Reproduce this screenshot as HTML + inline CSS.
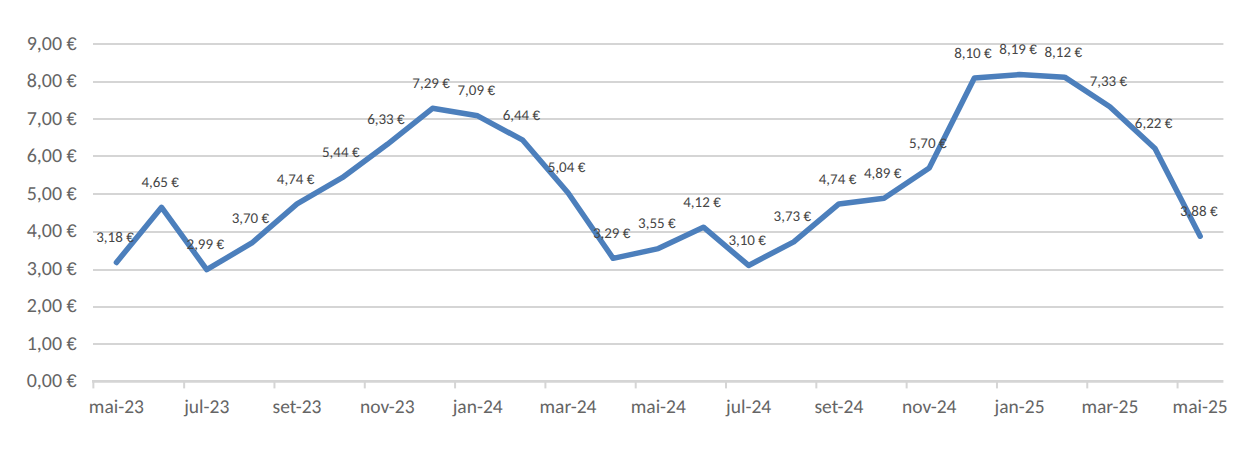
<!DOCTYPE html><html><head><meta charset="utf-8"><style>html,body{margin:0;padding:0;background:#fff;overflow:hidden}svg{display:block}text{font-family:Carlito, "Liberation Sans", sans-serif;font-size-adjust:0.4775;text-rendering:geometricPrecision}tspan.e{font-family:"Liberation Sans",sans-serif;font-size-adjust:none}</style></head><body>
<svg width="1253" height="449" viewBox="0 0 1253 449">
<rect width="1253" height="449" fill="#fff"/>
<line x1="93.00" y1="344.00" x2="1223.40" y2="344.00" stroke="#d5d5d5" stroke-width="2.00"/>
<line x1="93.00" y1="307.00" x2="1223.40" y2="307.00" stroke="#d5d5d5" stroke-width="2.00"/>
<line x1="93.00" y1="270.00" x2="1223.40" y2="270.00" stroke="#d5d5d5" stroke-width="2.00"/>
<line x1="93.00" y1="232.00" x2="1223.40" y2="232.00" stroke="#d5d5d5" stroke-width="2.00"/>
<line x1="93.00" y1="194.00" x2="1223.40" y2="194.00" stroke="#d5d5d5" stroke-width="2.00"/>
<line x1="93.00" y1="156.00" x2="1223.40" y2="156.00" stroke="#d5d5d5" stroke-width="2.00"/>
<line x1="93.00" y1="119.00" x2="1223.40" y2="119.00" stroke="#d5d5d5" stroke-width="2.00"/>
<line x1="93.00" y1="82.00" x2="1223.40" y2="82.00" stroke="#d5d5d5" stroke-width="2.00"/>
<line x1="93.00" y1="44.00" x2="1223.40" y2="44.00" stroke="#d5d5d5" stroke-width="2.00"/>
<line x1="92.00" y1="381.40" x2="1223.40" y2="381.40" stroke="#d5d5d5" stroke-width="2.60"/>
<line x1="93.35" y1="381.40" x2="93.35" y2="388.40" stroke="#d5d5d5" stroke-width="2.00"/>
<line x1="184.15" y1="381.40" x2="184.15" y2="388.40" stroke="#d5d5d5" stroke-width="2.00"/>
<line x1="274.46" y1="381.40" x2="274.46" y2="388.40" stroke="#d5d5d5" stroke-width="2.00"/>
<line x1="364.78" y1="381.40" x2="364.78" y2="388.40" stroke="#d5d5d5" stroke-width="2.00"/>
<line x1="455.09" y1="381.40" x2="455.09" y2="388.40" stroke="#d5d5d5" stroke-width="2.00"/>
<line x1="545.40" y1="381.40" x2="545.40" y2="388.40" stroke="#d5d5d5" stroke-width="2.00"/>
<line x1="635.71" y1="381.40" x2="635.71" y2="388.40" stroke="#d5d5d5" stroke-width="2.00"/>
<line x1="726.02" y1="381.40" x2="726.02" y2="388.40" stroke="#d5d5d5" stroke-width="2.00"/>
<line x1="816.34" y1="381.40" x2="816.34" y2="388.40" stroke="#d5d5d5" stroke-width="2.00"/>
<line x1="906.65" y1="381.40" x2="906.65" y2="388.40" stroke="#d5d5d5" stroke-width="2.00"/>
<line x1="996.96" y1="381.40" x2="996.96" y2="388.40" stroke="#d5d5d5" stroke-width="2.00"/>
<line x1="1087.27" y1="381.40" x2="1087.27" y2="388.40" stroke="#d5d5d5" stroke-width="2.00"/>
<line x1="1177.58" y1="381.40" x2="1177.58" y2="388.40" stroke="#d5d5d5" stroke-width="2.00"/>
<text x="76.80" y="387.30" text-anchor="end" font-size="20.00" fill="#656565">0,00 <tspan class="e" font-size="18.34">€</tspan></text>
<text x="76.80" y="349.79" text-anchor="end" font-size="20.00" fill="#656565">1,00 <tspan class="e" font-size="18.34">€</tspan></text>
<text x="76.80" y="312.28" text-anchor="end" font-size="20.00" fill="#656565">2,00 <tspan class="e" font-size="18.34">€</tspan></text>
<text x="76.80" y="274.77" text-anchor="end" font-size="20.00" fill="#656565">3,00 <tspan class="e" font-size="18.34">€</tspan></text>
<text x="76.80" y="237.26" text-anchor="end" font-size="20.00" fill="#656565">4,00 <tspan class="e" font-size="18.34">€</tspan></text>
<text x="76.80" y="199.75" text-anchor="end" font-size="20.00" fill="#656565">5,00 <tspan class="e" font-size="18.34">€</tspan></text>
<text x="76.80" y="162.24" text-anchor="end" font-size="20.00" fill="#656565">6,00 <tspan class="e" font-size="18.34">€</tspan></text>
<text x="76.80" y="124.73" text-anchor="end" font-size="20.00" fill="#656565">7,00 <tspan class="e" font-size="18.34">€</tspan></text>
<text x="76.80" y="87.22" text-anchor="end" font-size="20.00" fill="#656565">8,00 <tspan class="e" font-size="18.34">€</tspan></text>
<text x="76.80" y="49.71" text-anchor="end" font-size="20.00" fill="#656565">9,00 <tspan class="e" font-size="18.34">€</tspan></text>
<text x="116.42" y="413.00" text-anchor="middle" font-size="19.50" fill="#656565">mai-23</text>
<text x="206.73" y="413.00" text-anchor="middle" font-size="19.50" fill="#656565">jul-23</text>
<text x="297.04" y="413.00" text-anchor="middle" font-size="19.50" fill="#656565">set-23</text>
<text x="387.35" y="413.00" text-anchor="middle" font-size="19.50" fill="#656565">nov-23</text>
<text x="477.67" y="413.00" text-anchor="middle" font-size="19.50" fill="#656565">jan-24</text>
<text x="567.98" y="413.00" text-anchor="middle" font-size="19.50" fill="#656565">mar-24</text>
<text x="658.29" y="413.00" text-anchor="middle" font-size="19.50" fill="#656565">mai-24</text>
<text x="748.60" y="413.00" text-anchor="middle" font-size="19.50" fill="#656565">jul-24</text>
<text x="838.91" y="413.00" text-anchor="middle" font-size="19.50" fill="#656565">set-24</text>
<text x="929.23" y="413.00" text-anchor="middle" font-size="19.50" fill="#656565">nov-24</text>
<text x="1019.54" y="413.00" text-anchor="middle" font-size="19.50" fill="#656565">jan-25</text>
<text x="1109.85" y="413.00" text-anchor="middle" font-size="19.50" fill="#656565">mar-25</text>
<text x="1200.16" y="413.00" text-anchor="middle" font-size="19.50" fill="#656565">mai-25</text>
<polyline points="116.42,262.47 161.57,207.33 206.73,269.60 251.89,242.96 297.04,203.95 342.20,177.70 387.35,144.31 432.51,108.30 477.67,115.80 522.82,140.19 567.98,192.70 613.13,258.34 658.29,248.59 703.45,227.21 748.60,265.47 793.76,241.84 838.91,203.95 884.07,198.33 929.23,167.94 974.38,77.92 1019.54,74.54 1064.69,77.17 1109.85,106.80 1155.01,148.44 1200.16,236.21" fill="none" stroke="#4c7fbc" stroke-width="5.50" stroke-linejoin="round" stroke-linecap="round"/>
<text x="115.02" y="242.07" text-anchor="middle" font-size="15.00" fill="#474747">3,18 <tspan class="e" font-size="13.76">€</tspan></text>
<text x="160.17" y="186.93" text-anchor="middle" font-size="15.00" fill="#474747">4,65 <tspan class="e" font-size="13.76">€</tspan></text>
<text x="205.33" y="249.20" text-anchor="middle" font-size="15.00" fill="#474747">2,99 <tspan class="e" font-size="13.76">€</tspan></text>
<text x="250.49" y="222.56" text-anchor="middle" font-size="15.00" fill="#474747">3,70 <tspan class="e" font-size="13.76">€</tspan></text>
<text x="295.64" y="183.55" text-anchor="middle" font-size="15.00" fill="#474747">4,74 <tspan class="e" font-size="13.76">€</tspan></text>
<text x="340.80" y="157.30" text-anchor="middle" font-size="15.00" fill="#474747">5,44 <tspan class="e" font-size="13.76">€</tspan></text>
<text x="385.95" y="123.91" text-anchor="middle" font-size="15.00" fill="#474747">6,33 <tspan class="e" font-size="13.76">€</tspan></text>
<text x="431.11" y="87.90" text-anchor="middle" font-size="15.00" fill="#474747">7,29 <tspan class="e" font-size="13.76">€</tspan></text>
<text x="476.27" y="95.40" text-anchor="middle" font-size="15.00" fill="#474747">7,09 <tspan class="e" font-size="13.76">€</tspan></text>
<text x="521.42" y="119.79" text-anchor="middle" font-size="15.00" fill="#474747">6,44 <tspan class="e" font-size="13.76">€</tspan></text>
<text x="566.58" y="172.30" text-anchor="middle" font-size="15.00" fill="#474747">5,04 <tspan class="e" font-size="13.76">€</tspan></text>
<text x="611.73" y="237.94" text-anchor="middle" font-size="15.00" fill="#474747">3,29 <tspan class="e" font-size="13.76">€</tspan></text>
<text x="656.89" y="228.19" text-anchor="middle" font-size="15.00" fill="#474747">3,55 <tspan class="e" font-size="13.76">€</tspan></text>
<text x="702.05" y="206.81" text-anchor="middle" font-size="15.00" fill="#474747">4,12 <tspan class="e" font-size="13.76">€</tspan></text>
<text x="747.20" y="245.07" text-anchor="middle" font-size="15.00" fill="#474747">3,10 <tspan class="e" font-size="13.76">€</tspan></text>
<text x="792.36" y="221.44" text-anchor="middle" font-size="15.00" fill="#474747">3,73 <tspan class="e" font-size="13.76">€</tspan></text>
<text x="837.51" y="183.55" text-anchor="middle" font-size="15.00" fill="#474747">4,74 <tspan class="e" font-size="13.76">€</tspan></text>
<text x="882.67" y="177.93" text-anchor="middle" font-size="15.00" fill="#474747">4,89 <tspan class="e" font-size="13.76">€</tspan></text>
<text x="927.83" y="147.54" text-anchor="middle" font-size="15.00" fill="#474747">5,70 <tspan class="e" font-size="13.76">€</tspan></text>
<text x="972.98" y="57.52" text-anchor="middle" font-size="15.00" fill="#474747">8,10 <tspan class="e" font-size="13.76">€</tspan></text>
<text x="1018.14" y="54.14" text-anchor="middle" font-size="15.00" fill="#474747">8,19 <tspan class="e" font-size="13.76">€</tspan></text>
<text x="1063.29" y="56.77" text-anchor="middle" font-size="15.00" fill="#474747">8,12 <tspan class="e" font-size="13.76">€</tspan></text>
<text x="1108.45" y="86.40" text-anchor="middle" font-size="15.00" fill="#474747">7,33 <tspan class="e" font-size="13.76">€</tspan></text>
<text x="1153.61" y="128.04" text-anchor="middle" font-size="15.00" fill="#474747">6,22 <tspan class="e" font-size="13.76">€</tspan></text>
<text x="1198.76" y="215.81" text-anchor="middle" font-size="15.00" fill="#474747">3,88 <tspan class="e" font-size="13.76">€</tspan></text>
</svg></body></html>
